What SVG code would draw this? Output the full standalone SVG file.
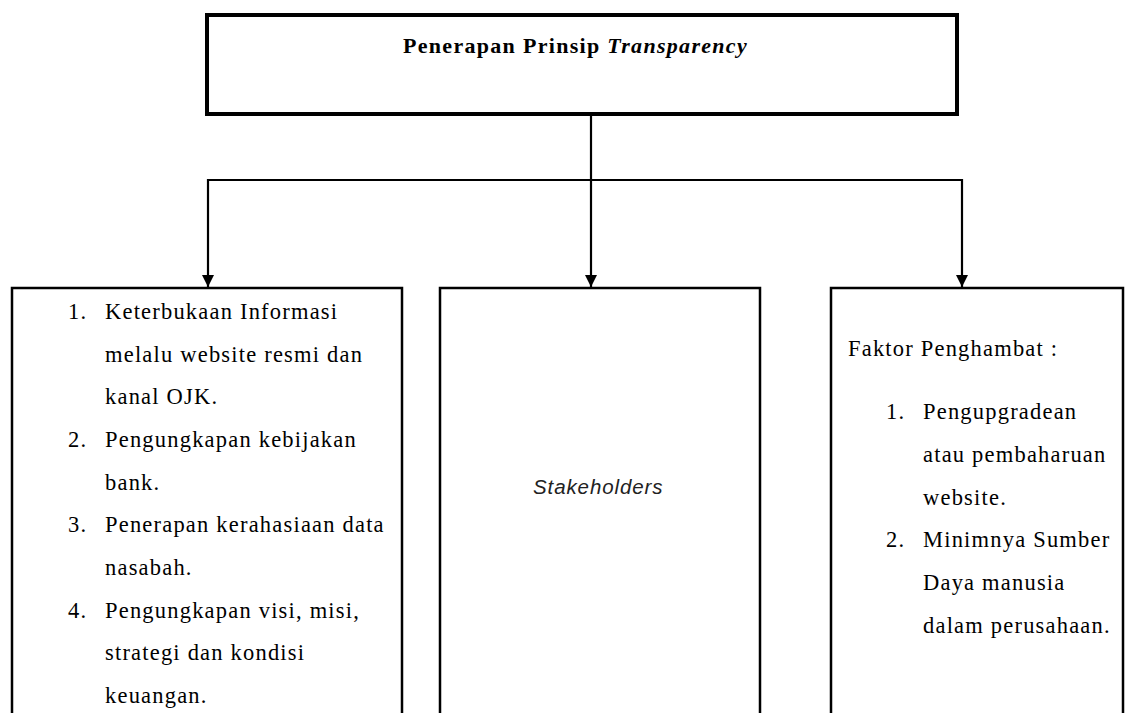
<svg xmlns="http://www.w3.org/2000/svg" width="1126" height="713" viewBox="0 0 1126 713">
<style>
.box{fill:#fff;stroke:#000;stroke-width:2.5}
.top{fill:#fff;stroke:#000;stroke-width:4}
.con{fill:none;stroke:#000;stroke-width:2.2}
.t{font-family:"Liberation Serif","Times New Roman",serif;font-size:22.5px;fill:#000;letter-spacing:1.2px}
.title{font-family:"Liberation Serif","Times New Roman",serif;font-size:22px;font-weight:bold;fill:#000;letter-spacing:1.3px}
.sh{font-family:"Liberation Sans",Arial,sans-serif;font-size:20.5px;font-style:italic;fill:#222;letter-spacing:0.9px}
</style>
<defs>
<marker id="arr" markerWidth="12" markerHeight="12" refX="10" refY="5" orient="auto" markerUnits="userSpaceOnUse" viewBox="0 0 10 10">
<path d="M0,0 L10,5 L0,10 Z" fill="#000"/>
</marker>
</defs>
<rect width="1126" height="713" fill="#fff"/>
<g id="connectors">
<line class="con" x1="591" y1="115" x2="591" y2="287" marker-end="url(#arr)"/>
<line class="con" x1="207" y1="180" x2="963" y2="180"/>
<line class="con" x1="208" y1="179" x2="208" y2="287" marker-end="url(#arr)"/>
<line class="con" x1="962" y1="179" x2="962" y2="287" marker-end="url(#arr)"/>
</g>
<g id="node-top">
<rect class="top" x="207" y="15" width="750" height="99"/>
<text class="title" x="403" y="53">Penerapan Prinsip <tspan font-style="italic">Transparency</tspan></text>
</g>
<g id="node-left">
<rect class="box" x="12" y="288" width="390" height="440"/>
<text class="t" x="68" y="319">1.</text>
<text class="t" x="105" y="319">Keterbukaan Informasi</text>
<text class="t" x="105" y="362">melalu website resmi dan</text>
<text class="t" x="105" y="404">kanal OJK.</text>
<text class="t" x="68" y="447">2.</text>
<text class="t" x="105" y="447">Pengungkapan kebijakan</text>
<text class="t" x="105" y="490">bank.</text>
<text class="t" x="68" y="532">3.</text>
<text class="t" x="105" y="532">Penerapan kerahasiaan data</text>
<text class="t" x="105" y="575">nasabah.</text>
<text class="t" x="68" y="618">4.</text>
<text class="t" x="105" y="618">Pengungkapan visi, misi,</text>
<text class="t" x="105" y="660">strategi dan kondisi</text>
<text class="t" x="105" y="703">keuangan.</text>
</g>
<g id="node-middle">
<rect class="box" x="440" y="288" width="320" height="440"/>
<text class="sh" x="533" y="494">Stakeholders</text>
</g>
<g id="node-right">
<rect class="box" x="831" y="288" width="292" height="440"/>
<text class="t" x="848" y="356">Faktor Penghambat :</text>
<text class="t" x="886" y="419">1.</text>
<text class="t" x="923" y="419">Pengupgradean</text>
<text class="t" x="923" y="462">atau pembaharuan</text>
<text class="t" x="923" y="505">website.</text>
<text class="t" x="886" y="547">2.</text>
<text class="t" x="923" y="547">Minimnya Sumber</text>
<text class="t" x="923" y="590">Daya manusia</text>
<text class="t" x="923" y="633">dalam perusahaan.</text>
</g>
</svg>
